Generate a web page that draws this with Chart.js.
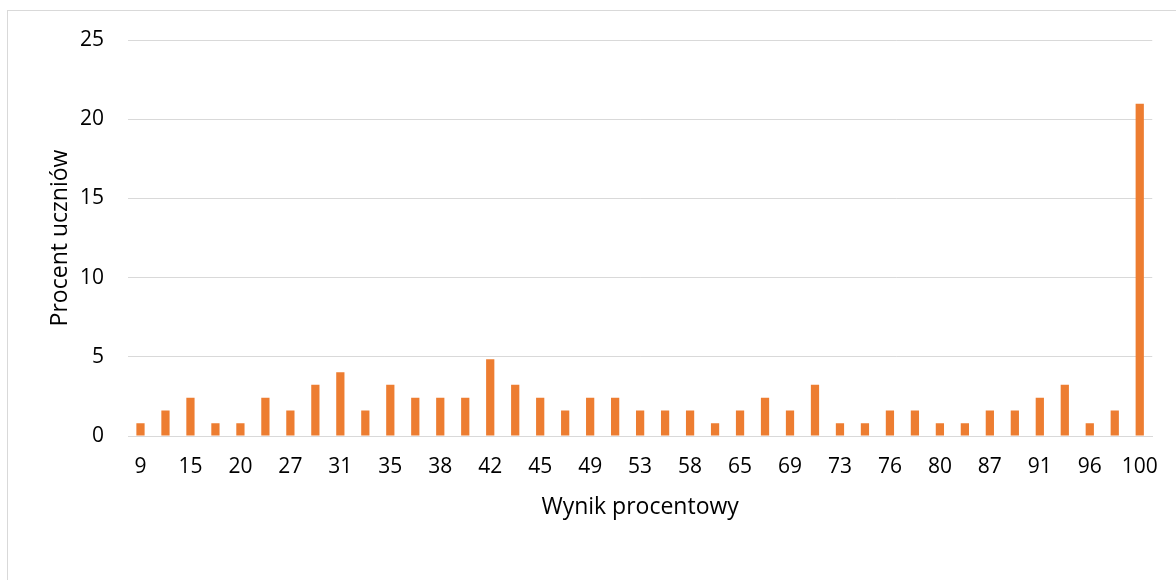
<!DOCTYPE html>
<html>
<head>
<meta charset="utf-8">
<script src="https://cdn.jsdelivr.net/npm/chart.js@4"></script>
<style>
  html, body { margin: 0; padding: 0; background: #fff; overflow: hidden; }
  #frame { position: absolute; left: 7px; top: 10px; width: 1180px; height: 600px; border: 1px solid #d9d9d9; box-sizing: border-box; }
  #wrap { position: absolute; left: 0; top: 0; width: 1176px; height: 580px; }
</style>
</head>
<body>
<div id="frame"></div>
<div id="wrap"><canvas id="chart"></canvas></div>
<script>
// score categories (every other one is labelled on the axis)
const scores = ['9', '13', '15', '18', '20', '24', '27', '29', '31', '33', '35', '36', '38', '40', '42', '44', '45', '47', '49', '51',
  '53', '55', '58', '60', '65', '67', '69', '71', '73', '75', '76', '78', '80', '84', '87', '89', '91', '93', '96', '98', '100'];
// percent of students
const percents = [0.81, 1.61, 2.42, 0.81, 0.81, 2.42, 1.61, 3.23, 4.03, 1.61, 3.23, 2.42, 2.42, 2.42, 4.84, 3.23, 2.42, 1.61, 2.42, 2.42,
  1.61, 1.61, 1.61, 0.81, 1.61, 2.42, 1.61, 3.23, 0.81, 0.81, 1.61, 1.61, 0.81, 0.81, 1.61, 1.61, 2.42, 3.23, 0.81, 1.61, 20.97];
const yTicks = [0, 5, 10, 15, 20, 25];

const tickFont = { family: "'Open Sans', 'Liberation Sans', sans-serif", size: 21 };
const titleFont = { family: "'Open Sans', 'Liberation Sans', sans-serif", size: 23 };

new Chart(document.getElementById('chart').getContext('2d'), {
  type: 'bar',
  data: {
    labels: scores,
    datasets: [{
      data: percents,
      backgroundColor: '#ed7d31',
      categoryPercentage: 1,
      barPercentage: 0.33
    }]
  },
  options: {
    responsive: true,
    maintainAspectRatio: false,
    animation: false,
    layout: { padding: { top: 40, right: 20, left: 0, bottom: 55 } },
    plugins: { legend: { display: false }, tooltip: { enabled: false } },
    scales: {
      x: {
        grid: { display: false, drawTicks: false },
        border: { color: '#d9d9d9', width: 1 },
        ticks: {
          autoSkip: false,
          maxRotation: 0,
          padding: 18,
          color: '#000',
          font: tickFont,
          callback: function(value, index) {
            return index % 2 === 0 ? this.getLabelForValue(value) : '';
          }
        },
        title: { display: true, text: 'Wynik procentowy', color: '#000', font: titleFont, padding: { top: 4, bottom: 4 } },
        afterFit: (scale) => { scale.height = 89; }
      },
      y: {
        min: 0,
        max: 25,
        afterBuildTicks: (scale) => { scale.ticks = yTicks.map(v => ({ value: v })); },
        grid: { color: '#d9d9d9', drawTicks: false },
        border: { display: false },
        ticks: { padding: 24, color: '#000', font: tickFont },
        title: { display: true, text: 'Procent uczniów', color: '#000', font: titleFont, padding: { top: 47, bottom: 4 } },
        afterFit: (scale) => { scale.width = 128; }
      }
    }
  }
});
</script>
</body>
</html>
